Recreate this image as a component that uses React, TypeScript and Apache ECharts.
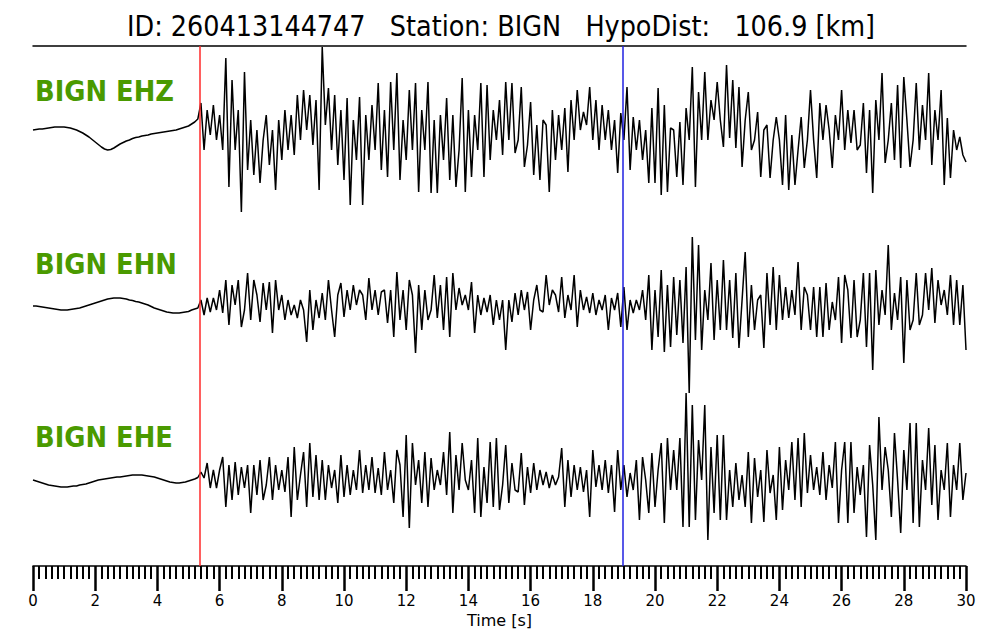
import React, { useEffect, useRef } from "react";
import * as echarts from "echarts";

// ---------------- data ----------------
const TITLE = "ID: 260413144747   Station: BIGN   HypoDist:   106.9 [km]";
const CHANNELS = ["BIGN EHZ", "BIGN EHN", "BIGN EHE"];
const TIME_STEP = 0.1; // seconds between samples
const P_PICK = 5.37; // red line (s)
const S_PICK = 18.97; // blue line (s)
const X_TICKS = [0, 2, 4, 6, 8, 10, 12, 14, 16, 18, 20, 22, 24, 26, 28, 30];

// amplitudes (arbitrary counts, up positive), one sample every TIME_STEP from t = 0
const EHZ = [
  0, 0.5, 1, 1, 1.5, 2, 2.5, 3, 3, 3,
  3, 2.5, 2, 1, 0, -1.5, -3, -5, -7, -9.5,
  -12, -14.5, -17, -19, -20, -19.5, -18, -16, -14, -12.5,
  -11, -10, -8.5, -7.5, -7, -6, -5.5, -5, -4, -3.5,
  -3, -2.5, -2, -1.5, -1, -0.5, 0, 1, 2, 3,
  4, 6, 8, 11,
  27, -20, 20, -5, 25, -10,
  15, -20, 72, -57, 50, -20, 20, -82, 58, -40,
  10, -45, 0, -53, -10, 15, -35, 0, -60, 10,
  -30, 20, -20, 15, -25, 35, -10, 40, 0, 35,
  -15, 30, -60, 83, 5, 42, -20, 35, -35, 20,
  -50, 32, -75, 10, -30, 33, -75, 15, -30, 25,
  -20, 47, -40, 20, -47, 48, -20, 57, -50, 10,
  -30, 40, -20, 47, -62, 20, -20, 48, -63, 10,
  -63, 15, -30, 32, -50, 15, -57, -20, 52, -62,
  20, -47, 15, -20, 47, -47, 45, -30, 20, -10,
  30, -25, 48, -10, 47, -23, -10, 43, -37, -15,
  28, -45, 5, -50, 10, 5, -62, 20, -30, 15,
  -20, 22, -42, 30, -10, 40, 0, 18, 5, 43,
  -10, 30, -20, 25, -10, 20, -20, 10, -43, 17,
  -10, 43, -40, 13, -20, 10, -30, 0, -53, 22,
  -53, 42, -65, 25, -62, 2, 0, -47, 8, -55,
  22, -10, 63, -57, 38, -10, 58, -10, 30, 10,
  48, 10, -17, 65, -8, 50, -18, 43, -37, 10,
  38, -20, -10, 18, -47, 0, 5, -48, -10, 13,
  -10, -55, 15, -60, -5, -55, -20, 13, -38, -10,
  40, -10, -48, 27, -10, 25, 0, -38, 15, -10,
  40, -20, 20, -13, 20, -20, -15, 27, -43, 20,
  -63, 30, -10, 57, -33, -10, 27, -30, 45, -38,
  53, 10, -37, -10, 47, -20, 25, -10, 57, -35,
  20, -10, 40, -55, 12, -48, 0, -20, -7, -25,
  -32,
];

const EHN = [
  -1, -1, -1.5, -2, -2.5, -3, -3.5, -4, -4.5, -5,
  -5, -5, -4.5, -4, -3.5, -3, -2, -1, 0, 1,
  2, 3, 4, 5, 6, 6.5, 7, 7, 7, 6.5,
  6, 5, 4.5, 3.5, 3, 2, 1, 0, -1.5, -3,
  -4, -5, -6, -7, -7.5, -8, -8, -8, -7.5, -7,
  -6.5, -5, -4, -3,
  5, -10, 7, -7, 7, -5,
  15, -8, 25, -20, 20, 0, 25, -22, -5, 32,
  -15, 25, 10, -17, 22, -5, 23, -28, 25, -5,
  10, -15, 5, -10, 0, -13, 5, -5, -37, 15,
  -25, 5, -13, 12, -15, 25, -5, -32, 10, 22,
  -12, 15, -5, 20, 0, 15, 10, -15, 27, -5,
  15, -10, 13, 15, -18, 15, -32, 33, -15, 15,
  -25, 25, 10, -48, 20, -25, 15, -15, -5, 30,
  -13, 20, -25, 28, -32, 32, -5, 17, 0, 10,
  -5, 23, -28, 10, -10, 7, -7, 10, -20, 5,
  -15, 5, -45, 5, -17, 12, -10, 15, -5, 13,
  -25, 5, 20, -5, -7, 30, 0, 15, 10, -7,
  28, -13, 10, -5, 30, -22, 15, -5, 8, -8,
  12, -10, 5, -5, 10, -25, 7, -5, 12, -22,
  18, -25, 5, -8, 5, -5, 15, -15, 30, -45,
  15, -32, 35, -47, 20, -42, 28, -30, 25, -38,
  38, -88, 68, -35, 60, -45, 15, -15, 42, -35,
  25, -25, 45, -25, 25, -33, 32, -43, 5, 53,
  -32, 20, -25, 5, 10, -43, 32, -20, 38, -25,
  30, -15, 18, -13, 15, -10, 43, -25, 18, 10,
  -25, 18, -32, 18, -32, 22, -25, 3, -15, 28,
  -38, 30, 15, -33, 25, -32, -15, 32, -42, 32,
  -65, 35, -20, 15, -10, 60, -25, 12, -15, 28,
  -58, 25, -25, -15, 32, -20, -10, 32, -5, 37,
  -18, 25, 0, 15, -10, 30, -20, 25, -20, 20,
  -45,
];

const EHE = [
  0, -1, -2, -3, -4, -5, -5.5, -6, -6.5, -7,
  -7, -7, -6.5, -6, -6, -5, -4.5, -4, -3, -2,
  -1, 0, 0.5, 1, 1.5, 2, 2.5, 3, 3, 3.5,
  4, 4.5, 5, 5, 5, 5, 4.5, 4, 3.5, 3,
  2, 1, 0, -1, -2, -2.5, -3, -3, -2.5, -2,
  -1, 0, 1, 2.5,
  8, 2, 17, -8, 10, -8,
  10, 23, -27, 15, -20, 18, -15, 13, -8, 15,
  -33, 15, -15, 20, -20, -5, 23, -20, 15, -10,
  10, -12, 23, -37, 33, -20, 5, 28, -27, 37,
  -17, 25, -20, 20, -20, 15, -8, 10, -23, 25,
  -17, 15, -15, 10, -10, 30, -13, 15, -10, 23,
  -13, 12, -15, 28, -10, 10, -23, 30, 15, -37,
  45, -48, 37, -5, 20, -23, 28, -27, 22, -10,
  10, -5, 28, -15, 48, -33, 25, -10, 37, 0,
  -10, 20, -33, 42, -37, 13, -23, 38, -27, 42,
  -30, -5, 35, -23, 17, -10, -12, 27, -25, 13,
  -13, 17, -10, 10, -5, 8, -8, 5, -5, 3,
  32, -27, 20, -17, 15, -10, 13, -12, 10, -37,
  30, -7, 15, -10, 20, -13, 15, -32, 30, -10,
  15, -17, 7, -10, 20, -40, 23, 0, -33, 27,
  -27, 10, 37, -43, 42, -10, 30, -10, 42, -47,
  87, -47, 75, -40, 40, 0, 75, -60, 33, -33,
  45, -40, 45, -40, 10, -27, 17, -20, 5, -27,
  28, -43, 22, -17, 10, -42, 30, -13, 5, -40,
  33, -30, 20, -10, 38, -20, 42, -27, 47, -13,
  25, -10, 13, -15, 28, -20, 15, -8, 38, -43,
  10, 38, -43, 38, -33, 13, -15, 15, -57, 35,
  -5, -60, 63, -10, 33, 10, -37, 47, 0, -53,
  30, -10, 57, -43, 57, -47, 20, -10, 52, -25,
  35, -40, 10, -10, 37, -37, 15, -10, 37, -20,
  7,
];

const TRACES = [EHZ, EHN, EHE];

// ---------------- layout / style ----------------
const FONT = "DejaVu Sans";
const GREEN = "#4a9a00";
const Y_MAX = 520; // y-axis span (one unit = one pixel of plot height)
const BASELINES = [436, 261, 86]; // trace zero lines on the y axis
const LABEL_Y = [91, 264, 437];

function buildSeries() {
  return TRACES.map((amps, k) => {
    const base: any = {
      type: "line",
      name: CHANNELS[k],
      data: amps.map((a, i) => [Number((i * TIME_STEP).toFixed(2)), BASELINES[k] + a]),
      showSymbol: false,
      symbol: "none",
      clip: false,
      lineStyle: { color: "#000", width: 1.5 },
      z: 2,
    };
    if (k === TRACES.length - 1) {
      base.z = 3;
      base.markLine = {
        silent: true,
        symbol: ["none", "none"],
        label: { show: false },
        animation: false,
        lineStyle: { type: "solid", width: 1.5 },
        data: [
          { xAxis: P_PICK, lineStyle: { color: "#ff2a2a", type: "solid", width: 1.5 } },
          { xAxis: S_PICK, lineStyle: { color: "#2020e0", type: "solid", width: 1.5 } },
        ],
      };
    }
    return base;
  });
}

export default function App() {
  const ref = useRef<HTMLDivElement>(null);
  useEffect(() => {
    if (!ref.current) return;
    const chart = echarts.init(ref.current, null, { renderer: "svg" });
    const option: any = {
      animation: false,
      backgroundColor: "#fff",
      textStyle: { fontFamily: FONT },
      grid: { left: 33, right: 34, top: 46, bottom: 74, show: false, containLabel: false },
      xAxis: [
        {
          type: "value",
          min: X_TICKS[0],
          max: X_TICKS[X_TICKS.length - 1],
          interval: X_TICKS[1] - X_TICKS[0],
          position: "bottom",
          axisLine: { show: true, onZero: false, lineStyle: { color: "#000", width: 1.5 } },
          axisTick: { show: true, length: 25, lineStyle: { color: "#000", width: 2.5 } },
          minorTick: { show: true, splitNumber: 10, length: 13, lineStyle: { color: "#000", width: 2 } },
          axisLabel: { show: true, fontSize: 15, color: "#000", margin: 27, fontFamily: FONT },
          splitLine: { show: false },
          minorSplitLine: { show: false },
          name: "Time [s]",
          nameLocation: "middle",
          nameGap: 43,
          nameTextStyle: { fontSize: 16, color: "#000", fontFamily: FONT },
        },
        {
          type: "value",
          min: X_TICKS[0],
          max: X_TICKS[X_TICKS.length - 1],
          position: "top",
          axisLine: { show: true, onZero: false, lineStyle: { color: "#000", width: 1.5 } },
          axisTick: { show: false },
          axisLabel: { show: false },
          splitLine: { show: false },
        },
      ],
      yAxis: {
        type: "value",
        min: 0,
        max: Y_MAX,
        show: false,
        splitLine: { show: false },
      },
      series: buildSeries(),
      graphic: [
        {
          type: "text",
          x: 501,
          y: 26,
          scaleX: 0.88,
          style: {
            text: TITLE,
            x: 0,
            y: 0,
            fill: "#000",
            font: `29px '${FONT}'`,
            textAlign: "center",
            textVerticalAlign: "middle",
            align: "center",
            verticalAlign: "middle",
          },
        },
        ...CHANNELS.map((c, k) => ({
          type: "text",
          x: 35,
          y: LABEL_Y[k],
          scaleX: 0.89,
          style: {
            text: c,
            x: 0,
            y: 0,
            fill: GREEN,
            font: `bold 29px '${FONT}'`,
            textAlign: "left",
            textVerticalAlign: "middle",
            align: "left",
            verticalAlign: "middle",
          },
        })),
      ],
    };
    chart.setOption(option);
    return () => chart.dispose();
  }, []);
  return (
    <div
      ref={ref}
      style={{ position: "fixed", left: 0, top: 0, width: 1000, height: 640, background: "#fff" }}
    />
  );
}
